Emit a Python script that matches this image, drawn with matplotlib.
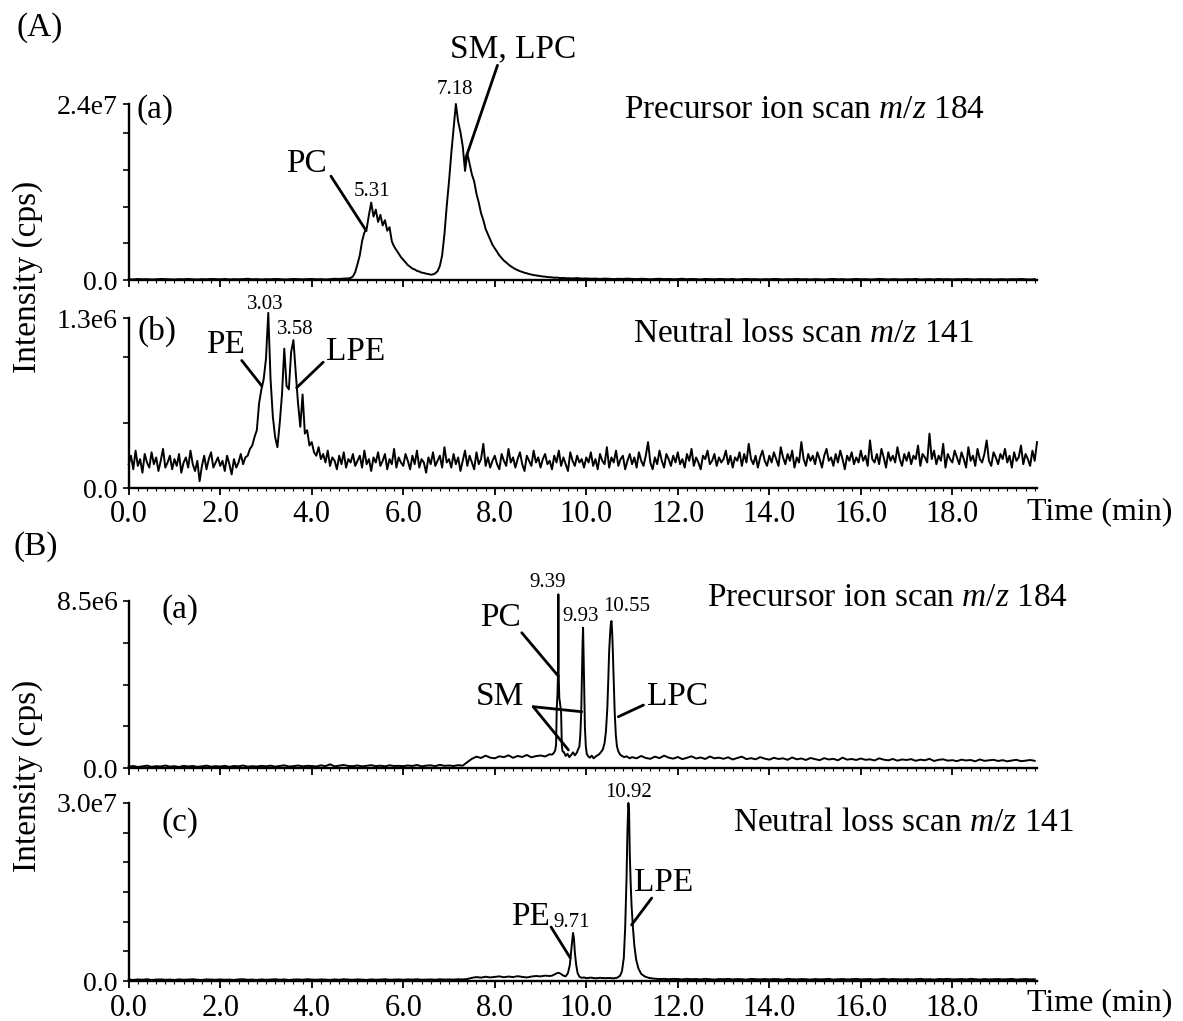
import numpy as np
import matplotlib
matplotlib.use("Agg")
import matplotlib.pyplot as plt
from matplotlib.ticker import MultipleLocator

plt.rcParams['font.family'] = ['Liberation Serif', 'DejaVu Serif']
plt.rcParams['mathtext.fontset'] = 'custom'
plt.rcParams['mathtext.rm'] = 'Liberation Serif'
plt.rcParams['mathtext.it'] = 'Liberation Serif:italic'

# ---------------- data (intensity as % of each panel's full scale) ----------------
# (A)(a) precursor ion scan m/z 184, full scale 2.4e7
aa_full = 2.4e7
aa_base1 = [0.5, 0.3, 0.6, 0.4, 0.5, 0.3, 0.4, 0.6, 0.5, 0.4,
            0.3, 0.5, 0.4, 0.6, 0.4, 0.3, 0.5, 0.4, 0.6, 0.5,
            0.4, 0.6, 0.3, 0.5, 0.4, 0.5, 0.7, 0.4, 0.5, 0.3,
            0.5, 0.4, 0.6, 0.5, 0.3, 0.4, 0.6, 0.5, 0.4, 0.5,
            0.6, 0.4, 0.5, 0.3, 0.5, 0.7, 0.6, 0.8]              # 0.0-4.7 min, every 0.1
aa_peaks = [0.9, 1.2, 2.0, 4.5,
            9, 14, 22, 27, 29, 37, 44, 36, 40, 33, 37, 31, 34, 28, 30, 22, 19, 17, 15, 13,
            11.5, 10, 8.5, 7.5, 6.5, 6, 5.2, 4.8, 4.2, 4.0, 3.6, 3.4, 3.0, 3.2, 3.8, 5.0, 8, 14, 26, 42,
            56, 72, 86, 100, 90, 84, 76, 62, 72, 66, 60, 56, 49, 44, 38, 34, 29, 26, 23, 20,
            18, 16, 14, 12.5, 11, 10, 8.8, 7.8, 7.0, 6.2, 5.6, 5.0, 4.6, 4.1, 3.8, 3.4, 3.1, 2.8, 2.6, 2.4,
            2.2, 2.0, 1.9, 1.7, 1.6, 1.5, 1.3, 1.4, 1.2, 1.1, 1.2, 1.0]  # 4.80-9.55 min, every 0.05
aa_base2 = [1.0, 0.9, 1.1, 0.8,
            0.9, 0.7, 0.8, 0.6, 0.8, 0.7, 0.5, 0.7, 0.6, 0.8,
            0.6, 0.5, 0.7, 0.6, 0.4, 0.6, 0.7, 0.5, 0.6, 0.4,
            0.5, 0.7, 0.4, 0.6, 0.5, 0.3, 0.6, 0.5, 0.4, 0.6,
            0.5, 0.4, 0.6, 0.3, 0.5, 0.6, 0.4, 0.5, 0.3, 0.5,
            0.4, 0.6, 0.5, 0.3, 0.5, 0.4, 0.6, 0.4, 0.5, 0.3,
            0.5, 0.4, 0.3, 0.5, 0.6, 0.4, 0.5, 0.3, 0.4, 0.6,
            0.4, 0.5, 0.3, 0.4, 0.6, 0.5, 0.3, 0.5, 0.4, 0.3,
            0.5, 0.4, 0.6, 0.3, 0.4, 0.5, 0.3, 0.6, 0.4, 0.5,
            0.3, 0.5, 0.4, 0.6, 0.4, 0.3, 0.5, 0.4, 0.5, 0.3,
            0.4, 0.5, 0.3, 0.5, 0.4, 0.6, 0.4, 0.3, 0.5]     # 9.6-19.8 min, every 0.1

# (A)(b) neutral loss scan m/z 141, full scale 1.3e6, every 0.05 min from 0
ab_full = 1.3e6
ab_vals = [14, 19, 11, 22, 13, 17, 9, 20, 15, 12, 21, 14, 18, 10, 16, 23, 12, 15, 19, 11,
           17, 13, 20, 9, 15, 18, 12, 22, 14, 10, 16, 4, 13, 19, 11, 17, 21, 12, 15, 18,
           13, 16, 10, 19, 14, 8, 17, 12, 15, 20, 14, 18, 19, 23, 25, 30, 34, 50, 58, 64,
           76, 103, 64, 42, 30, 24, 38, 55, 82, 60, 58, 80, 87, 68, 50, 36, 55, 32, 34, 25,
           27, 21, 19, 24, 17, 20, 15, 22, 13, 18, 16, 11, 19, 14, 21, 12, 17, 15, 20, 13,
           16, 19, 12, 22, 14, 17, 10, 18, 15, 21, 13, 16, 20, 11, 17, 14, 23, 12, 18, 15,
           13, 20, 16, 11, 19, 14, 22, 12, 17, 15, 9, 18, 14, 21, 13, 16, 19, 12, 24, 15,
           17, 12, 20, 14, 18, 10, 16, 22, 13, 19, 15, 11, 21, 14, 17, 26, 13, 18, 12, 16,
           19, 14, 11, 20, 16, 13, 23, 15, 18, 12, 17, 21, 14, 10, 19, 16, 13, 22, 15, 18,
           12, 17, 20, 14, 16, 11, 19, 15, 22, 13, 18, 14, 10, 21, 16, 13, 19, 15, 17, 12,
           18, 15, 21, 13, 17, 11, 20, 16, 14, 24, 12, 18, 15, 22, 13, 17, 19, 11, 16, 20,
           14, 18, 12, 21, 16, 13, 19, 27, 15, 11, 18, 14, 22, 16, 12, 20, 17, 13, 19, 15,
           21, 14, 17, 12, 20, 16, 23, 13, 18, 15, 11, 19, 17, 22, 14, 16, 20, 13, 18, 15,
           17, 22, 14, 19, 12, 18, 16, 21, 13, 20, 15, 26, 17, 14, 19, 12, 18, 22, 16, 13,
           19, 15, 21, 17, 13, 24, 18, 14, 20, 16, 22, 12, 18, 15, 27, 17, 13, 20, 16, 19,
           14, 21, 17, 12, 19, 23, 16, 18, 13, 20, 15, 22, 17, 11, 19, 16, 21, 14, 18, 15,
           22, 16, 19, 13, 28, 17, 15, 20, 14, 23, 18, 12, 21, 16, 19, 15, 24, 17, 13, 20,
           16, 21, 14, 19, 17, 25, 13, 20, 18, 15, 32, 17, 22, 14, 19, 16, 26, 12, 20, 17,
           15, 22, 18, 14, 21, 17, 12, 24, 16, 19, 13, 23, 17, 15, 20, 28, 16, 13, 21, 18,
           14, 20, 17, 23, 15, 19, 12, 21, 16, 18, 25, 14, 20, 17, 13, 22, 16, 27]

# (B)(a) precursor ion scan m/z 184, full scale 8.5e6
ba_full = 8.5e6
ba_base1 = [0.8, 1.2, 0.6, 1.0, 1.4, 0.7, 1.1, 0.9, 1.5, 0.8,
            1.1, 0.6, 1.3, 0.9, 1.2, 0.7, 1.0, 1.4, 0.8, 1.1,
            0.9, 1.3, 0.7, 1.2, 1.0, 1.5, 0.8, 1.1, 0.9, 1.3,
            1.0, 1.4, 0.8, 1.2, 1.6, 0.9, 1.1, 1.5, 1.0, 1.3,
            1.2, 0.9, 1.6, 1.1, 2.2, 1.0, 1.4, 1.8, 1.2, 1.1,
            1.5, 1.0, 1.3, 1.7, 1.1, 1.4, 1.0, 1.6, 1.2, 1.3,
            1.1, 1.5, 1.2, 1.8, 1.0, 1.4, 1.6, 1.1, 1.9, 1.3,
            1.5, 1.2, 1.7, 1.4, 3.5,
            5.5, 6.8, 6.0, 7.4, 6.2, 5.8, 7.0, 6.5, 7.6, 6.1, 7.2, 6.6, 7.8, 6.4, 7.1, 7.5, 6.9, 8.2]  # 0-9.2, every 0.1
ba_peak_t = [9.25, 9.29, 9.32, 9.34, 9.355, 9.37, 9.385, 9.39, 9.395, 9.41,
             9.43, 9.45, 9.465, 9.48, 9.51, 9.55, 9.59, 9.63, 9.67, 9.71,
             9.75, 9.79, 9.82, 9.85, 9.87, 9.89, 9.91, 9.92, 9.93, 9.94,
             9.955, 9.97, 9.99, 10.01, 10.04, 10.08, 10.12, 10.16, 10.20, 10.24,
             10.28, 10.32, 10.36, 10.40, 10.43, 10.46, 10.48, 10.50, 10.52, 10.535,
             10.55, 10.565, 10.58, 10.60, 10.62, 10.645, 10.67, 10.70, 10.74, 10.78,
             10.83, 10.88, 10.95]
ba_peak_y = [8.0, 9.0, 10.5, 14, 36, 44, 60, 104, 58, 42,
             38, 33, 14, 10, 9.5, 7.2, 8.5, 6.5, 7.8, 9.4,
             7.6, 9.0, 11, 13, 20, 34, 62, 76, 84, 70,
             45, 24, 13, 8.5, 7.0, 6.2, 7.4, 5.8, 6.8, 7.5,
             8.2, 9.5, 11, 15, 22, 36, 52, 70, 80, 86,
             88, 82, 70, 52, 34, 20, 13, 10, 8.0, 7.2,
             6.5, 7.0, 5.8]
ba_base2 = [6.5, 5.8, 7.2, 6.0, 5.5, 6.8, 5.9, 7.4, 6.2, 5.6,
            6.6, 5.3, 6.1, 7.0, 5.7, 6.3, 5.4, 6.9, 5.8, 6.2,
            5.5, 6.4, 5.1, 6.0, 6.8, 5.3, 5.9, 5.2, 6.5, 5.6,
            5.0, 6.1, 5.4, 5.8, 4.9, 6.3, 5.2, 5.7, 4.8, 6.0,
            5.3, 4.7, 5.9, 5.1, 5.5, 4.6, 6.2, 5.0, 5.4, 4.8,
            5.7, 4.9, 5.2, 4.5, 5.8, 5.0, 4.6, 5.4, 4.4, 5.1,
            4.8, 5.3, 4.3, 5.0, 4.6, 5.5, 4.2, 4.9, 5.2, 4.4,
            4.7, 4.1, 5.0, 4.5, 4.8, 4.0, 5.1, 4.3, 4.6, 4.9,
            4.2, 4.7, 4.0, 4.5, 4.9, 4.1, 4.4, 4.8, 4.3]     # 11.0-19.8, every 0.1

# (B)(c) neutral loss scan m/z 141, full scale 3.0e7
bc_full = 3.0e7
bc_base1 = [0.8, 0.6, 0.9, 0.7, 1.0, 0.6, 0.8, 0.9, 0.7, 0.8,
            0.6, 0.9, 0.7, 0.8, 1.0, 0.7, 0.6, 0.9, 0.8, 0.7,
            0.9, 0.7, 0.8, 0.6, 0.9, 1.0, 0.7, 0.8, 0.6, 0.9,
            0.7, 0.8, 1.0, 0.7, 0.9, 0.6, 0.8, 0.9, 0.7, 1.0,
            0.8, 0.7, 0.9, 0.8, 0.6, 0.9, 0.7, 1.0, 0.8, 0.7,
            0.9, 0.8, 0.6, 0.9, 0.7, 0.8, 1.0, 0.7, 0.8, 0.9,
            0.7, 0.9, 0.8, 1.0, 0.7, 0.8, 0.9, 0.7, 1.0, 0.8,
            0.9, 0.8, 1.0, 0.9, 1.1,
            1.8, 2.2, 1.9, 2.4, 2.0, 2.3, 2.6, 2.1, 2.5, 2.2, 2.7, 2.3, 2.0, 2.5, 2.8, 2.6, 3.0, 2.8]  # 0-9.2
bc_peak_t = [9.25, 9.30, 9.35, 9.40, 9.45, 9.50, 9.55, 9.60, 9.64, 9.67,
             9.69, 9.71, 9.73, 9.75, 9.78, 9.81, 9.85, 9.90, 9.95, 10.0,
             10.1, 10.2, 10.3, 10.4, 10.5, 10.6, 10.68, 10.74, 10.78, 10.82,
             10.85, 10.88, 10.90, 10.92, 10.935, 10.95, 10.97, 10.99, 11.02, 11.05,
             11.09, 11.14, 11.20, 11.28, 11.36, 11.45]
bc_peak_y = [3.0, 3.6, 4.3, 4.6, 3.9, 3.0, 2.6, 4.5, 9.0, 17,
             22, 27, 24, 16, 9, 4.5, 2.4, 1.8, 2.0, 1.6,
             1.9, 1.5, 1.8, 1.6, 1.7, 1.5, 1.9, 3.0, 5.5, 13,
             30, 58, 85, 100, 96, 72, 55, 42, 30, 20,
             12, 7.0, 4.0, 2.5, 1.8, 1.4]
bc_base2 = [1.3, 1.1, 1.2, 1.0, 1.2,
            1.1, 0.9, 1.2, 1.0, 1.1, 0.9, 1.2, 1.0, 0.8, 1.1,
            1.0, 1.2, 0.9, 1.1, 1.0, 0.8, 1.2, 1.0, 0.9, 1.1,
            0.9, 1.1, 1.0, 0.8, 1.2, 1.0, 0.9, 1.1, 1.0, 0.8,
            1.1, 0.9, 1.0, 1.2, 0.8, 1.0, 1.1, 0.9, 1.0, 1.2,
            0.9, 1.0, 1.1, 0.8, 1.0, 1.2, 0.9, 1.1, 1.0, 0.9,
            1.1, 0.9, 1.0, 1.2, 0.9, 1.0, 0.8, 1.1, 1.0, 1.2,
            0.9, 1.0, 1.1, 0.9, 1.2, 1.0, 0.8, 1.1, 0.9, 1.0,
            1.1, 0.9, 1.0, 1.2, 0.8, 1.0, 1.1, 0.9, 1.0]     # 11.5-19.8


def grid(start, step, vals):
    return start + step * np.arange(len(vals))


def trace(parts, full):
    t = np.concatenate([p[0] for p in parts])
    y = np.concatenate([np.asarray(p[1], float) for p in parts]) / 100.0 * full
    return t, y


aa_t, aa_y = trace([(grid(0.0, 0.1, aa_base1), aa_base1),
                    (grid(4.8, 0.05, aa_peaks), aa_peaks),
                    (grid(9.6, 0.1, aa_base2), aa_base2)], aa_full)
ab_t, ab_y = trace([(grid(0.0, 0.05, ab_vals), ab_vals)], ab_full)
ba_t, ba_y = trace([(grid(0.0, 0.1, ba_base1), ba_base1),
                    (np.array(ba_peak_t), ba_peak_y),
                    (grid(11.0, 0.1, ba_base2), ba_base2)], ba_full)
bc_t, bc_y = trace([(grid(0.0, 0.1, bc_base1), bc_base1),
                    (np.array(bc_peak_t), bc_peak_y),
                    (grid(11.5, 0.1, bc_base2), bc_base2)], bc_full)

# ---------------- figure ----------------
W, H = 1183, 1021
fig = plt.figure(figsize=(W / 100, H / 100), dpi=100)
L, R = 128.7, 1037
XMAX = 19.85


def make_ax(top, bottom, full, yticks, toplabel, show_x):
    ax = fig.add_axes([L / W, 1 - bottom / H, (R - L) / W, (bottom - top) / H])
    ax.set_xlim(0, XMAX)
    ax.set_ylim(0, full)
    for s in ('top', 'right'):
        ax.spines[s].set_visible(False)
    for s in ('left', 'bottom'):
        ax.spines[s].set_linewidth(1.7)
    ax.xaxis.set_major_locator(MultipleLocator(2))
    ax.xaxis.set_minor_locator(MultipleLocator(0.2))
    ax.set_yticks(yticks)
    ax.set_yticklabels(['0.0'] + [''] * (len(yticks) - 2) + [toplabel])
    ax.tick_params(axis='y', which='major', direction='out', length=4, width=1.2,
                   labelsize=20, pad=4)
    ax.tick_params(axis='x', which='major', direction='out', length=5, width=1.3,
                   labelsize=22, pad=4)
    ax.tick_params(axis='x', which='minor', direction='out', length=2, width=0.8)
    if show_x:
        ax.set_xticks(np.arange(0, 19, 2))
        ax.set_xticklabels([f'{v:.1f}' for v in np.arange(0, 19, 2)])
    else:
        ax.set_xticklabels([])
    return ax


def pct(ax):
    return ax.get_ylim()[1] / 100.0


def leader(ax, t0, v0, t1, v1):
    s = pct(ax)
    ax.annotate('', xy=(t1, v1 * s), xytext=(t0, v0 * s),
                arrowprops=dict(arrowstyle='-', lw=2.0, color='black',
                                shrinkA=0, shrinkB=0),
                annotation_clip=False)


def label(ax, t, v, txt, size=24, **kw):
    ax.text(t, v * pct(ax), txt, fontsize=size, ha='center', va='center',
            clip_on=False, **kw)


axA1 = make_ax(104, 280, aa_full, [0, 5e6, 1e7, 1.5e7, 2e7, 2.4e7], '2.4e7', False)
axA2 = make_ax(318, 488, ab_full, [0, 5e5, 1e6, 1.3e6], '1.3e6', True)
axB1 = make_ax(601, 768, ba_full, [0, 2.125e6, 4.25e6, 6.375e6, 8.5e6], '8.5e6', False)
axB2 = make_ax(803, 981, bc_full, [0, 5e6, 1e7, 1.5e7, 2e7, 2.5e7, 3e7], '3.0e7', True)

for ax, t, y in ((axA1, aa_t, aa_y), (axA2, ab_t, ab_y),
                 (axB1, ba_t, ba_y), (axB2, bc_t, bc_y)):
    ax.plot(t, y, color='black', lw=1.4, clip_on=False)

# (A)(a)
label(axA1, 0.57, 97, '(a)')
label(axA1, 14.76, 97, 'Precursor ion scan $m/z$ 184')
label(axA1, 3.88, 66, 'PC')
leader(axA1, 4.42, 59, 5.19, 28)
label(axA1, 5.32, 50, '5.31', size=15)
label(axA1, 8.40, 131, 'SM, LPC')
leader(axA1, 8.06, 122, 7.35, 68)
label(axA1, 7.13, 108, '7.18', size=15)

# (A)(b)
label(axA2, 0.62, 92, '(b)')
label(axA2, 14.74, 91, 'Neutral loss scan $m/z$ 141')
label(axA2, 2.98, 108, '3.03', size=15)
label(axA2, 3.64, 93, '3.58', size=15)
label(axA2, 2.11, 84, 'PE')
leader(axA2, 2.47, 75, 2.91, 60)
label(axA2, 4.97, 80, 'LPE')
leader(axA2, 4.25, 74, 3.67, 59)

# (B)(a)
label(axB1, 1.13, 95, '(a)')
label(axB1, 16.58, 102, 'Precursor ion scan $m/z$ 184')
label(axB1, 9.15, 111, '9.39', size=15)
label(axB1, 9.87, 91, '9.93', size=15)
label(axB1, 10.88, 97, '10.55', size=15)
label(axB1, 8.12, 90, 'PC')
leader(axB1, 8.59, 81, 9.39, 55)
label(axB1, 8.12, 42.5, 'SM')
leader(axB1, 8.84, 36.7, 9.90, 33.7)
leader(axB1, 8.84, 36.7, 9.61, 10.8)
label(axB1, 11.99, 42.5, 'LPC')
leader(axB1, 11.25, 37.7, 10.70, 30.7)

# (B)(c)
label(axB2, 1.13, 89, '(c)')
label(axB2, 16.93, 89, 'Neutral loss scan $m/z$ 141')
label(axB2, 8.78, 36, 'PE')
label(axB2, 9.69, 32.6, '9.71', size=15)
leader(axB2, 9.23, 30.3, 9.65, 13)
label(axB2, 10.92, 106, '10.92', size=15)
label(axB2, 11.68, 55, 'LPE')
leader(axB2, 11.43, 46.6, 10.99, 31.5)

# figure-level texts
fig.text(40 / W, 1 - 28 / H, '(A)', fontsize=24, ha='center', va='center')
fig.text(36 / W, 1 - 547 / H, '(B)', fontsize=24, ha='center', va='center')
fig.text(28 / W, 1 - 277 / H, 'Intensity (cps)', fontsize=24, rotation=90,
         ha='center', va='center')
fig.text(28 / W, 1 - 776 / H, 'Intensity (cps)', fontsize=24, rotation=90,
         ha='center', va='center')
fig.text(1100 / W, 1 - 512 / H, 'Time (min)', fontsize=23, ha='center', va='center')
fig.text(1100 / W, 1 - 1003 / H, 'Time (min)', fontsize=23, ha='center', va='center')

fig.savefig('out.png', dpi=100)
